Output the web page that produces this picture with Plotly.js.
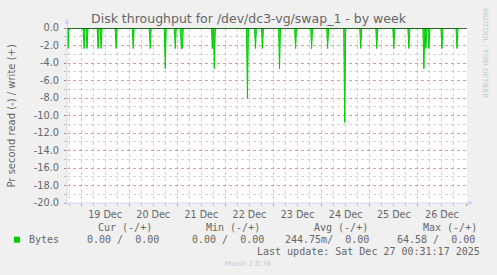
<!DOCTYPE html>
<html>
<head>
<meta charset="utf-8">
<script src="https://cdn.plot.ly/plotly-3.0.1.min.js"></script>
<style>html,body{margin:0;padding:0;background:#F0F0F0;}#chart{width:497px;height:275px;}</style>
</head>
<body>
<div id="chart"></div>
<script>
// ---- data ----
var spikeTimes = [
  '2025-12-18 17:30','2025-12-19 01:30','2025-12-19 03:00','2025-12-19 08:30','2025-12-19 10:00',
  '2025-12-19 17:30','2025-12-20 02:00','2025-12-20 10:30','2025-12-20 18:00','2025-12-20 23:00',
  '2025-12-21 02:00','2025-12-21 02:30','2025-12-21 17:30','2025-12-21 18:30','2025-12-22 11:00',
  '2025-12-22 15:00','2025-12-22 18:30','2025-12-23 03:00','2025-12-23 11:00','2025-12-23 19:00',
  '2025-12-24 03:00','2025-12-24 11:30','2025-12-24 19:30','2025-12-25 03:30','2025-12-25 12:00',
  '2025-12-25 19:30','2025-12-26 03:00','2025-12-26 04:00','2025-12-26 05:30','2025-12-26 12:00',
  '2025-12-26 19:30'
];
var spikeReadValues = [
  -2.35,-2.35,-2.35,-2.35,-2.35,
  -2.35,-2.35,-2.35,-4.65,-2.35,
  -2.35,-2.35,-2.35,-4.65,-8.05,
  -2.35,-2.35,-4.65,-2.35,-2.35,
  -2.35,-10.8,-2.35,-2.35,-2.35,
  -2.35,-4.65,-2.35,-2.35,-2.35,
  -2.35
];
var rangeStart = '2025-12-18 17:00';
var rangeEnd = '2025-12-27 00:30';
var writeTimes = [rangeStart, rangeEnd];
var writeValues = [0, 0];

var yTickVals = [0,-2,-4,-6,-8,-10,-12,-14,-16,-18,-20];
var yTickText = ['0.0','-2.0','-4.0','-6.0','-8.0','-10.0','-12.0','-14.0','-16.0','-18.0','-20.0'];

var legendHeaders = ['Cur (-/+)','Min (-/+)','Avg (-/+)','Max (-/+)'];
var seriesName = 'Bytes';
var legendValues = ['0.00 /  0.00','0.00 /  0.00','244.75m/  0.00','64.58 /  0.00'];
var lastUpdate = 'Last update: Sat Dec 27 00:31:17 2025';
var title = 'Disk throughput for /dev/dc3-vg/swap_1 - by week';
var yTitle = 'Pr second read (-) / write (+)';
var sideText = 'RRDTOOL / TOBI OETIKER';
var footer = 'Munin 2.0.76';

// ---- build read series (0 between samples) ----
function toMs(s){var p=s.split(/[- :]/).map(Number);return Date.UTC(p[0],p[1]-1,p[2],p[3],p[4]);}
function toStr(ms){return new Date(ms).toISOString().slice(0,19).replace('T',' ');}
var STEP = 1800000;
var pts = {};
spikeTimes.forEach(function(t,i){pts[toMs(t)] = spikeReadValues[i];});
spikeTimes.forEach(function(t){
  var m = toMs(t);
  if(!(m-STEP in pts)) pts[m-STEP] = 0;
  if(!(m+STEP in pts)) pts[m+STEP] = 0;
});
var keys = Object.keys(pts).map(Number).sort(function(a,b){return a-b;});
var readX = keys.map(toStr), readY = keys.map(function(k){return pts[k];});

// ---- geometry helpers (pixel -> paper) ----
var L=67, R=467, T=28, B=203;
function px(x){return (x-L)/(R-L);}
function py(y){return (B-y)/(B-T);}

var FONT = 'DejaVu Sans, sans-serif';
var MONO = 'DejaVu Sans Mono, monospace';
var FC = '#666666';
var AX = '#CFD6F8';

var traces = [
  {x: readX, y: readY, type:'scatter', mode:'lines', fill:'tozeroy',
   line:{color:'#00CC00', width:1}, fillcolor:'rgba(0,204,0,0.75)', hoverinfo:'skip', name:'read'},
  {x: writeTimes, y: writeValues, type:'scatter', mode:'lines',
   line:{color:'#00CC00', width:1}, hoverinfo:'skip', name:'write'}
];

var ann = [];
ann.push({xref:'paper', yref:'paper', x:px(11), y:py(115.5), text:yTitle, textangle:-90,
  showarrow:false, xanchor:'center', yanchor:'middle', font:{family:FONT, size:10, color:FC}});
ann.push({xref:'paper', yref:'paper', x:px(485), y:py(53), text:sideText, textangle:90,
  showarrow:false, xanchor:'center', yanchor:'middle', font:{family:FONT, size:7, color:'#C8C8C8'}});
var hdrX = [125, 233, 341.3, 449.7];
legendHeaders.forEach(function(h,i){
  ann.push({xref:'paper', yref:'paper', x:px(hdrX[i]), y:py(227.3), text:h.replace(/ /g,'\u00a0'),
    showarrow:false, xanchor:'center', yanchor:'middle', font:{family:MONO, size:10, color:FC}});
});
ann.push({xref:'paper', yref:'paper', x:px(26.7), y:py(239.7), text:seriesName,
  showarrow:false, xanchor:'left', yanchor:'middle', font:{family:MONO, size:10, color:FC}});
var valR = [161, 266, 371, 476.7];
legendValues.forEach(function(v,i){
  ann.push({xref:'paper', yref:'paper', x:px(valR[i]), y:py(239.7), text:v.replace(/ /g,'\u00a0'),
    showarrow:false, xanchor:'right', yanchor:'middle', font:{family:MONO, size:10, color:FC}});
});
ann.push({xref:'paper', yref:'paper', x:px(482.3), y:py(251.7), text:lastUpdate.replace(/ /g,'\u00a0'),
  showarrow:false, xanchor:'right', yanchor:'middle', font:{family:MONO, size:10, color:FC}});
ann.push({xref:'paper', yref:'paper', x:px(248), y:py(264), text:footer,
  showarrow:false, xanchor:'center', yanchor:'middle', font:{family:FONT, size:7, color:'#C8C8C8'}});

var shapes = [
  // axis lines extending to arrows
  {type:'line', xref:'paper', yref:'paper', x0:px(67), x1:px(67), y0:py(205), y1:py(22), line:{color:AX, width:1}, layer:'above'},
  {type:'line', xref:'paper', yref:'paper', x0:px(64), x1:px(470), y0:py(203), y1:py(203), line:{color:AX, width:1}, layer:'above'},
  {type:'path', xref:'paper', yref:'paper', path:'M '+px(64.5)+' '+py(24)+' L '+px(69.5)+' '+py(24)+' L '+px(67)+' '+py(18)+' Z', fillcolor:AX, line:{width:0}, layer:'above'},
  {type:'path', xref:'paper', yref:'paper', path:'M '+px(468)+' '+py(200.5)+' L '+px(468)+' '+py(205.5)+' L '+px(474)+' '+py(203)+' Z', fillcolor:AX, line:{width:0}, layer:'above'},
  // zero rule
  {type:'line', xref:'paper', yref:'y', x0:0, x1:1, y0:0, y1:0, line:{color:'#000000', width:1}, layer:'above'},
  // legend colour box
  {type:'rect', xref:'paper', yref:'paper', x0:px(14), x1:px(20), y0:py(242.7), y1:py(236.7), fillcolor:'#00CC00', line:{width:0}}
];

var layout = {
  width:497, height:275,
  margin:{l:L, r:497-R, t:T, b:275-B, pad:0},
  paper_bgcolor:'#F0F0F0', plot_bgcolor:'#FFFFFF',
  showlegend:false,
  title:{text:title, xref:'container', x:0.5, xanchor:'center', y:1-19/275, yanchor:'middle',
    font:{family:FONT, size:12.5, color:FC}},
  xaxis:{type:'date', range:[rangeStart, rangeEnd], tick0:'2025-12-19', dtick:86400000,
    ticklabelmode:'period', tickformat:'%d %b', showline:false, zeroline:false,
    showgrid:true, gridcolor:'rgba(220,90,90,0.45)', griddash:'dot', gridwidth:1,
    ticks:'outside', ticklen:2, tickcolor:'rgba(220,90,90,0.8)',
    tickfont:{family:FONT, size:9.6, color:FC},
    minor:{dtick:21600000, showgrid:true, gridcolor:'rgba(150,150,150,0.4)', griddash:'dot', ticks:'outside', ticklen:2, tickcolor:'rgba(150,150,150,0.6)'},
    fixedrange:true},
  yaxis:{range:[-20,0], tickvals:yTickVals, ticktext:yTickText, showline:false, zeroline:false,
    showgrid:true, gridcolor:'rgba(220,90,90,0.45)', griddash:'dot', gridwidth:1,
    ticks:'outside', ticklen:2, tickcolor:'rgba(220,90,90,0.8)', ticklabelstandoff:3,
    tickfont:{family:FONT, size:9.8, color:FC},
    minor:{dtick:1, showgrid:true, gridcolor:'rgba(150,150,150,0.4)', griddash:'dot', ticks:'outside', ticklen:2, tickcolor:'rgba(150,150,150,0.6)'},
    fixedrange:true},
  annotations:ann,
  shapes:shapes
};

Plotly.newPlot('chart', traces, layout, {staticPlot:true, displayModeBar:false});
</script>
</body>
</html>
